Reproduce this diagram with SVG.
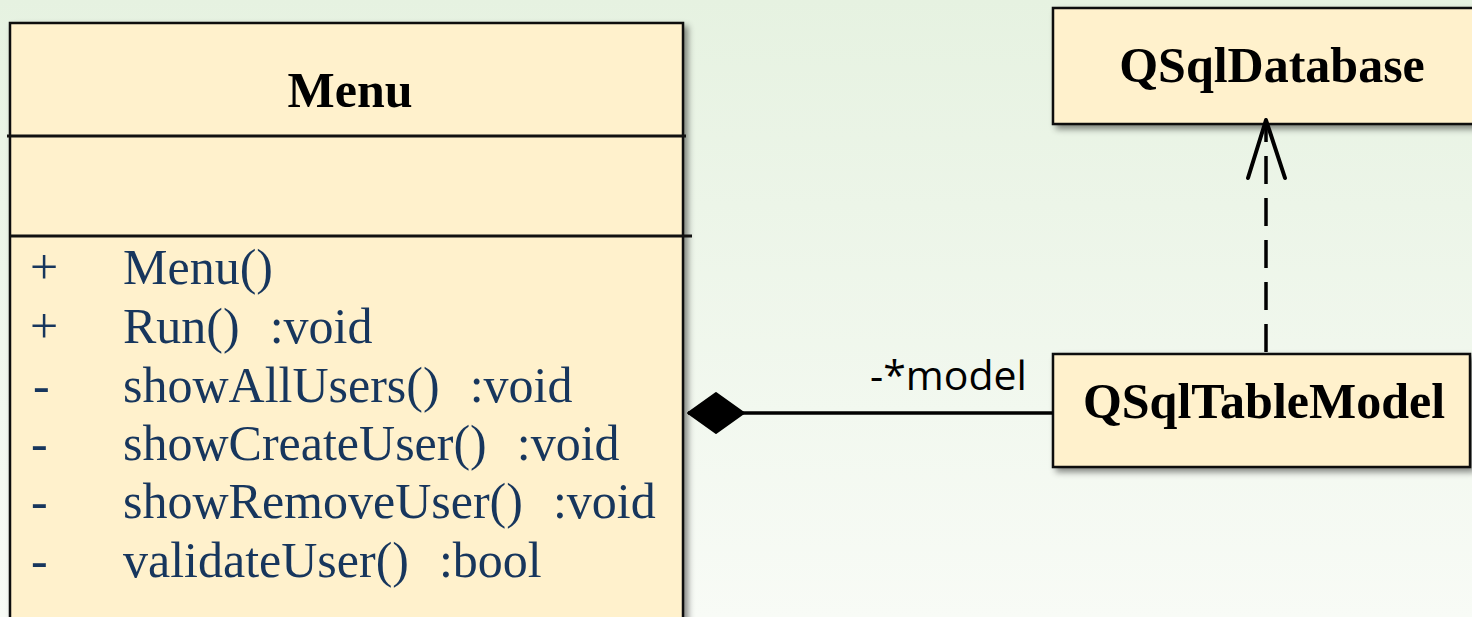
<svg xmlns="http://www.w3.org/2000/svg" width="1472" height="617" viewBox="0 0 1472 617">
  <defs>
    <linearGradient id="bg" x1="0" y1="0" x2="0" y2="1">
      <stop offset="0" stop-color="#e6f2e1"/>
      <stop offset="1" stop-color="#f8fbf6"/>
    </linearGradient>
    <filter id="shadow" x="-5%" y="-5%" width="115%" height="120%">
      <feDropShadow dx="4" dy="4" stdDeviation="3" flood-color="#000" flood-opacity="0.45"/>
    </filter>
    <marker id="diamond" viewBox="0 0 60 44" refX="2" refY="22" markerWidth="60" markerHeight="44" markerUnits="userSpaceOnUse" orient="auto">
      <path d="M2 22 L30 2 L58 22 L30 42 Z" fill="#000" stroke="#000" stroke-width="2" stroke-linejoin="round"/>
    </marker>
  </defs>
  <style>
    .box { fill: #fff1cc; stroke: #111; stroke-width: 2.5; }
    .sep { stroke: #111; stroke-width: 3; }
    .title { font-family: "Liberation Serif", "Times New Roman", serif; font-weight: bold; font-size: 50px; fill: #000; text-anchor: middle; }
    .member { font-family: "Liberation Serif", "Times New Roman", serif; font-size: 50px; fill: #17365d; }
    .label { font-family: "Open Sans", "Liberation Sans", sans-serif; font-size: 41px; fill: #000; }
    .conn { stroke: #000; stroke-width: 3.5; fill: none; }
  </style>
  <rect x="0" y="0" width="1472" height="617" fill="url(#bg)"/>

  <g id="Menu">
    <rect class="box" x="10" y="23" width="673" height="640" filter="url(#shadow)"/>
    <line class="sep" x1="7" y1="136" x2="686" y2="136"/>
    <line class="sep" x1="10" y1="236" x2="692" y2="236"/>
    <text class="title" x="350" y="107">Menu</text>
    <g class="member">
      <text x="30" y="284">+</text><text x="123" y="284">Menu()</text>
      <text x="30" y="343">+</text><text x="123" y="343">Run()<tspan dx="30">:void</tspan></text>
      <text x="33" y="402">-</text><text x="123" y="402">showAllUsers()<tspan dx="30">:void</tspan></text>
      <text x="31" y="460">-</text><text x="123" y="460">showCreateUser()<tspan dx="30">:void</tspan></text>
      <text x="31" y="518">-</text><text x="123" y="518">showRemoveUser()<tspan dx="30">:void</tspan></text>
      <text x="31" y="577">-</text><text x="123" y="577">validateUser()<tspan dx="30">:bool</tspan></text>
    </g>
  </g>

  <g id="QSqlDatabase">
    <rect class="box" x="1053" y="8" width="440" height="116" filter="url(#shadow)"/>
    <text class="title" x="1272" y="82">QSqlDatabase</text>
  </g>

  <g id="QSqlTableModel">
    <rect class="box" x="1053" y="354" width="417" height="113" filter="url(#shadow)"/>
    <text class="title" x="1264" y="418">QSqlTableModel</text>
  </g>

  <g id="connectors">
    <line class="conn" x1="688" y1="413" x2="1053" y2="413" marker-start="url(#diamond)"/>
    <text class="label" x="870" y="390">-*model</text>
    <line class="conn" x1="1266" y1="352" x2="1266" y2="120" stroke-dasharray="28 14"/>
    <path d="M1248 178 L1266 120 L1285 178" fill="none" stroke="#000" stroke-width="4" stroke-linecap="round" stroke-linejoin="round"/>
  </g>
</svg>
